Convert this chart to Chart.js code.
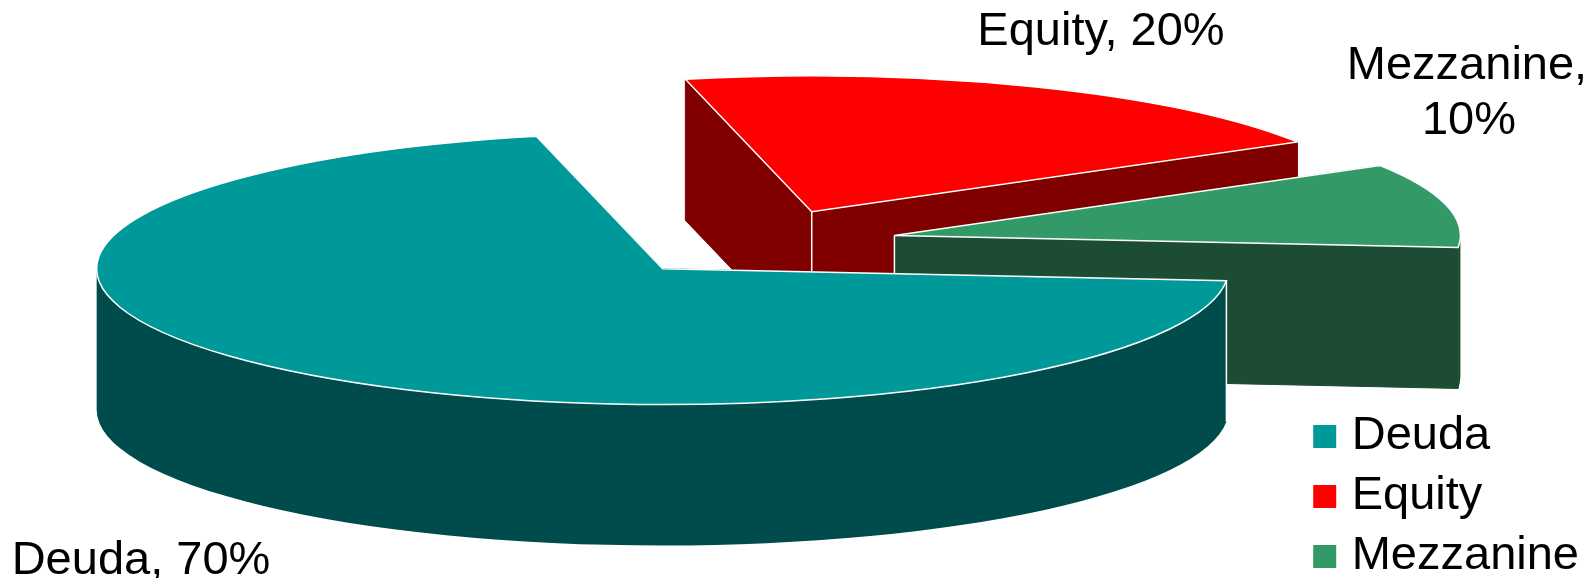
<!DOCTYPE html>
<html><head><meta charset="utf-8">
<style>html,body{margin:0;padding:0;background:#fff}#w{width:1588px;height:578px;position:relative}</style>
<script src="https://cdn.jsdelivr.net/npm/chart.js@4/dist/chart.umd.min.js"></script>
</head><body><div id="w"><canvas id="c"></canvas></div>
<script>
const categories = ['Deuda', 'Equity', 'Mezzanine'];
const shares = [70, 20, 10];
const topColors = ['#009999', '#FF0000', '#339966'];
const wallColors = ['#004C4C', '#800000', '#1C4C33'];
const labelLines = ['Deuda, 70%', 'Equity, 20%', 'Mezzanine,', '10%'];

const TILT = 0.24, DEPTH = 141, EXPLODE = 142, RADIUS = 566;
const CENTER = {x: 756, y: 243};
const paintOrder = [1, 2, 0];
const labelPos = [[141, 574], [1101, 45], [1467, 79], [1469, 134]];
const labelFont = '47px "Liberation Sans"';

const pie3d = {
  id: 'pie3d',
  beforeDatasetsDraw(chart) {
    const ctx = chart.ctx, arcs = chart.getDatasetMeta(0).data;
    paintOrder.forEach(i => {
      const a = arcs[i], mid = (a.startAngle + a.endAngle) / 2;
      const r = a.outerRadius, s = a.startAngle, e = a.endAngle;
      const cx = CENTER.x + Math.cos(mid) * EXPLODE;
      const cy = CENTER.y + Math.sin(mid) * EXPLODE * TILT;
      const px = t => cx + Math.cos(t) * r, py = t => cy + Math.sin(t) * r * TILT;
      ctx.save();
      ctx.fillStyle = wallColors[i];
      ctx.strokeStyle = wallColors[i];
      ctx.lineWidth = 1;
      [s, e].forEach(t => {
        ctx.beginPath();
        ctx.moveTo(cx, cy); ctx.lineTo(px(t), py(t));
        ctx.lineTo(px(t), py(t) + DEPTH); ctx.lineTo(cx, cy + DEPTH);
        ctx.closePath(); ctx.fill(); ctx.stroke();
      });
      for (let k = -1; k <= 1; k++) {
        const lo = Math.max(s, k * 2 * Math.PI), hi = Math.min(e, k * 2 * Math.PI + Math.PI);
        if (hi <= lo) continue;
        ctx.beginPath();
        ctx.ellipse(cx, cy, r, r * TILT, 0, lo, hi);
        ctx.ellipse(cx, cy + DEPTH, r, r * TILT, 0, hi, lo, true);
        ctx.closePath(); ctx.fill();
      }
      // white seam on the visible vertical wall edge
      ctx.strokeStyle = '#fff'; ctx.lineWidth = 1.5;
      const seamX = e - s > Math.PI ? px(s) : cx, seamY = e - s > Math.PI ? py(s) : cy;
      ctx.beginPath(); ctx.moveTo(seamX, seamY); ctx.lineTo(seamX, seamY + DEPTH); ctx.stroke();
      // top face drawn by the library's own arc element, squashed
      ctx.save();
      ctx.translate(cx, cy); ctx.scale(1, TILT); ctx.translate(-a.x, -a.y);
      a.draw(ctx);
      ctx.restore();
      // even white outline round the top face
      ctx.beginPath();
      ctx.moveTo(cx, cy);
      ctx.ellipse(cx, cy, r, r * TILT, 0, s, e);
      ctx.closePath(); ctx.stroke();
      ctx.restore();
    });
    return false;
  },
  afterDraw(chart) {
    const ctx = chart.ctx;
    ctx.save();
    ctx.fillStyle = '#000'; ctx.font = labelFont;
    ctx.textAlign = 'center'; ctx.textBaseline = 'alphabetic';
    labelLines.forEach((l, i) => ctx.fillText(l, labelPos[i][0], labelPos[i][1]));
    ctx.restore();
  }
};

new Chart(document.getElementById('c'), {
  type: 'pie',
  data: {labels: categories, datasets: [{data: shares, backgroundColor: topColors, borderWidth: 0}]},
  options: {
    responsive: true, maintainAspectRatio: false, animation: false,
    rotation: 95.1,
    radius: RADIUS,
    layout: {padding: {right: -1, bottom: -15}},
    plugins: {
      tooltip: {enabled: false},
      legend: {position: 'right', align: 'end',
        labels: {color: '#000', font: {family: '"Liberation Sans"', size: 47}, boxWidth: 7, boxHeight: 23,
          padding: 13, usePointStyle: true, pointStyle: 'rect'}}
    }
  },
  plugins: [pie3d]
});
</script></body></html>
